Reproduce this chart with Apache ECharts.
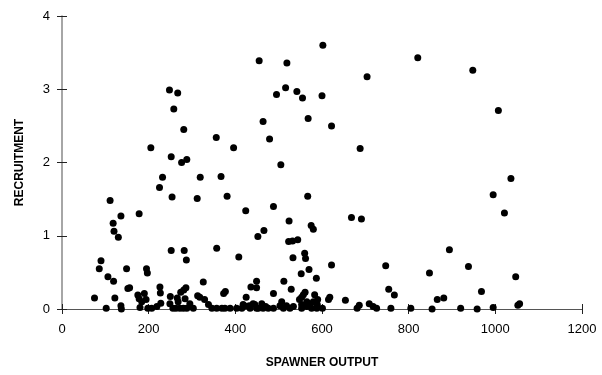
<!DOCTYPE html>
<html lang="en">
<head>
<meta charset="UTF-8">
<title>Recruitment vs spawner output</title>
<script src="https://cdn.jsdelivr.net/npm/echarts@6/dist/echarts.min.js"></script>
<style>
  html, body { margin: 0; padding: 0; background: #fff; }
  #chart { width: 602px; height: 375px; }
</style>
</head>
<body>
<div id="chart"></div>
<script>
// spawner output (x) and recruitment (y)
var spawner = [
  248, 267, 258, 281, 356, 205, 396, 252, 276, 288,
  232, 319, 367, 225, 254, 312, 381, 111, 424, 136,
  178, 118, 120, 130, 252, 282, 287, 357, 408, 90,
  86, 149, 195, 197, 455, 519, 602, 821, 704, 516,
  495, 542, 555, 600, 464, 568, 622, 479, 688, 505,
  567, 488, 524, 575, 580, 466, 452, 523, 532, 544,
  668, 691, 533, 560, 562, 622, 747, 570, 948, 1007,
  1036, 995, 1021, 894, 938, 848, 552, 587, 106, 119,
  326, 226, 227, 152, 156, 190, 175, 178, 75, 122,
  250, 266, 274, 281, 286, 284, 313, 329, 373, 377,
  425, 436, 449, 449, 512, 529, 754, 767, 488, 561,
  557, 583, 618, 615, 654, 548, 553, 590, 589, 565,
  686, 681, 709, 718, 726, 759, 805, 601, 968, 866,
  881, 854, 920, 958, 995, 1052, 1056, 1047, 136, 137,
  102, 184, 180, 194, 198, 207, 219, 228, 249, 256,
  268, 263, 272, 280, 288, 295, 303, 318, 338, 346,
  357, 369, 376, 388, 403, 415, 422, 434, 441, 449,
  418, 432, 445, 453, 461, 464, 470, 476, 488, 503,
  507, 511, 518, 526, 534, 565, 572, 580, 576, 553,
  588, 553
];
var recruitment = [
  2.99, 2.95, 2.73, 2.45, 2.34, 2.20, 2.20, 2.08, 2.00, 2.04,
  1.80, 1.80, 1.81, 1.66, 1.53, 1.51, 1.54, 1.48, 1.34, 1.27,
  1.30, 1.17, 1.06, 0.98, 0.80, 0.80, 0.67, 0.83, 0.71, 0.66,
  0.55, 0.55, 0.55, 0.49, 3.39, 3.36, 3.60, 3.43, 3.17, 3.02,
  2.93, 2.97, 2.88, 2.91, 2.56, 2.60, 2.50, 2.32, 2.19, 1.97,
  1.54, 1.40, 1.20, 1.14, 1.09, 1.07, 0.99, 0.92, 0.93, 0.945,
  1.25, 1.23, 0.70, 0.76, 0.69, 0.60, 0.59, 0.54, 3.26, 2.71,
  1.78, 1.56, 1.31, 0.81, 0.58, 0.49, 0.48, 0.42, 0.44, 0.38,
  0.37, 0.30, 0.22, 0.28, 0.29, 0.21, 0.19, 0.14, 0.15, 0.15,
  0.17, 0.15, 0.23, 0.26, 0.29, 0.14, 0.18, 0.13, 0.21, 0.24,
  0.16, 0.30, 0.38, 0.29, 0.38, 0.27, 0.27, 0.19, 0.21, 0.23,
  0.195, 0.195, 0.16, 0.13, 0.12, 0.13, 0.06, 0.13, 0.06, 0.10,
  0.05, 0.01, 0.07, 0.035, 0.01, 0.01, 0.01, 0.01, 0.24, 0.13,
  0.15, 0.0, 0.01, 0.0, 0.02, 0.05, 0.07, 0.44, 0.045, 0.0,
  0.01, 0.10, 0.02, 0.13, 0.01, 0.01, 0.035, 0.08, 0.07, 0.01,
  0.10, 0.01, 0.01, 0.01, 0.01, 0.07, 0.01, 0.16, 0.06, 0.01,
  0.01, 0.01, 0.01, 0.01, 0.01, 0.01, 0.04, 0.01, 0.07, 0.01,
  0.06, 0.045, 0.06, 0.01, 0.07, 0.01, 0.035, 0.01, 0.01, 0.045,
  0.10, 0.01, 0.045, 0.01, 0.035, 0.035, 0.045, 0.10, 0.01, 0.01,
  0.01, 0.16
];
var xTicks = [0, 200, 400, 600, 800, 1000, 1200];
var yTicks = [0, 1, 2, 3, 4];

var points = spawner.map(function (x, i) { return [x, recruitment[i]]; });

var font = '"Liberation Sans", Arial, sans-serif';
var myChart = echarts.init(document.getElementById('chart'));

var option = {
  animation: false,
  grid: { left: 62, right: 20, top: 16, bottom: 66 },
  xAxis: [{
    type: 'value',
    min: xTicks[0], max: xTicks[xTicks.length - 1], interval: 200,
    name: 'SPAWNER OUTPUT',
    nameLocation: 'middle',
    nameGap: 48,
    nameTextStyle: { fontFamily: font, fontWeight: 'bold', fontSize: 12, color: '#000' },
    axisLine: { show: true, lineStyle: { color: '#555', width: 1 } },
    axisTick: { show: true, inside: false, length: 5, lineStyle: { color: '#222' } },
    axisLabel: {
      fontFamily: font, fontSize: 13, color: '#000', margin: 14,
      formatter: function (v) { return String(v); }
    },
    splitLine: { show: false }
  }, {
    type: 'value',
    min: xTicks[0], max: xTicks[xTicks.length - 1], interval: 200,
    position: 'bottom',
    axisLine: { show: false },
    axisTick: { show: true, inside: true, length: 5, lineStyle: { color: '#222' } },
    axisLabel: { show: false },
    splitLine: { show: false }
  }],
  yAxis: [{
    type: 'value',
    min: yTicks[0], max: yTicks[yTicks.length - 1], interval: 1,
    name: 'RECRUITMENT',
    nameLocation: 'middle',
    nameGap: 36,
    nameTextStyle: { fontFamily: font, fontWeight: 'bold', fontSize: 12, color: '#000' },
    axisLine: { show: true, lineStyle: { color: '#888', width: 1.5 } },
    axisTick: { show: true, inside: false, length: 5, lineStyle: { color: '#222' } },
    axisLabel: { fontFamily: font, fontSize: 13, color: '#000', margin: 12 },
    splitLine: { show: false }
  }, {
    type: 'value',
    min: yTicks[0], max: yTicks[yTicks.length - 1], interval: 1,
    position: 'left',
    axisLine: { show: false },
    axisTick: { show: true, inside: true, length: 5, lineStyle: { color: '#222' } },
    axisLabel: { show: false },
    splitLine: { show: false }
  }],
  series: [{
    type: 'scatter',
    xAxisIndex: 0,
    yAxisIndex: 0,
    symbol: 'circle',
    symbolSize: 7,
    silent: true,
    itemStyle: { color: '#000', opacity: 1 },
    data: points
  }]
};

myChart.setOption(option);
</script>
</body>
</html>
